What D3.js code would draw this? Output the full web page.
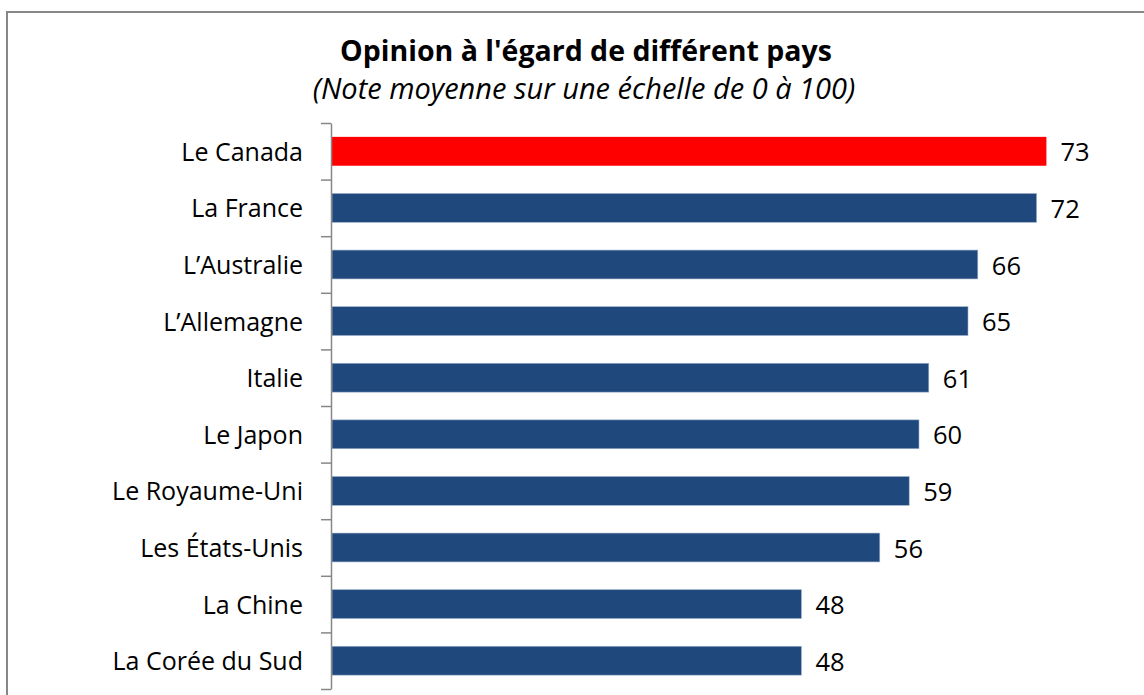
<!DOCTYPE html>
<html><head><meta charset="utf-8">
<script src="https://cdn.jsdelivr.net/npm/d3@7"></script>
<style>html,body{margin:0;padding:0;background:#fff}svg{display:block}</style>
</head><body>
<svg id="c" width="1144" height="695"></svg>
<script>
const categories = ["Le Canada","La France","L\u2019Australie","L\u2019Allemagne","Italie","Le Japon","Le Royaume-Uni","Les \u00C9tats-Unis","La Chine","La Cor\u00E9e du Sud"];
const values = [73,72,66,65,61,60,59,56,48,48];
const highlight = ["Le Canada"];
const title = "Opinion \u00E0 l'\u00E9gard de diff\u00E9rent pays";
const subtitle = "(Note moyenne sur une \u00E9chelle de 0 \u00E0 100)";

const svg = d3.select("#c");
const font = "'Open Sans', sans-serif";

svg.append("rect").attr("x",7).attr("y",12).attr("width",1150).attr("height",700)
  .attr("fill","#fff").attr("stroke","#878787").attr("stroke-width",2);

const x = d3.scaleLinear().domain([0,80]).range([331,331+784]);
const y = d3.scaleBand().domain(categories).range([123,689]).paddingInner(0.49).paddingOuter(0.245);
const yb = d3.scaleLinear().domain([0,categories.length]).range([123,689]);

svg.append("text").attr("x",586).attr("y",61).attr("text-anchor","middle")
  .attr("font-family",font).attr("font-weight","bold").attr("font-size",28.5).attr("fill","#000").text(title);
svg.append("text").attr("x",584).attr("y",99).attr("text-anchor","middle")
  .attr("font-family",font).attr("font-style","italic").attr("font-size",29).attr("fill","#000").text(subtitle);

const data = categories.map((c,i)=>({c, v:values[i]}));

svg.append("g").selectAll("rect").data(data).join("rect")
  .attr("x",x(0)+1).attr("y",d=>y(d.c)).attr("height",y.bandwidth())
  .attr("width",d=>x(d.v)-x(0)-1)
  .attr("fill",d=>highlight.includes(d.c)?"#ff0000":"#1f497d")
  .attr("stroke",d=>highlight.includes(d.c)?"none":"#9fb2cc").attr("stroke-width",0.6);

svg.append("g").selectAll("text").data(data).join("text")
  .attr("x",d=>x(d.v)+14).attr("y",d=>y(d.c)+y.bandwidth()/2+10)
  .attr("font-family",font).attr("font-size",25.5).attr("fill","#000").text(d=>d.v);

svg.append("g").selectAll("text").data(data).join("text")
  .attr("x",303).attr("y",d=>y(d.c)+y.bandwidth()/2+9.5).attr("text-anchor","end")
  .attr("font-family",font).attr("font-size",25).attr("fill","#000").text(d=>d.c);

const ax = svg.append("g").attr("transform","translate(331,0)")
  .call(d3.axisLeft(yb).tickValues(d3.range(categories.length+1)).tickSize(10).tickSizeOuter(0).tickFormat(""));
ax.selectAll("path,line").attr("stroke","#878787").attr("stroke-width",1.5);
</script>
</body></html>
